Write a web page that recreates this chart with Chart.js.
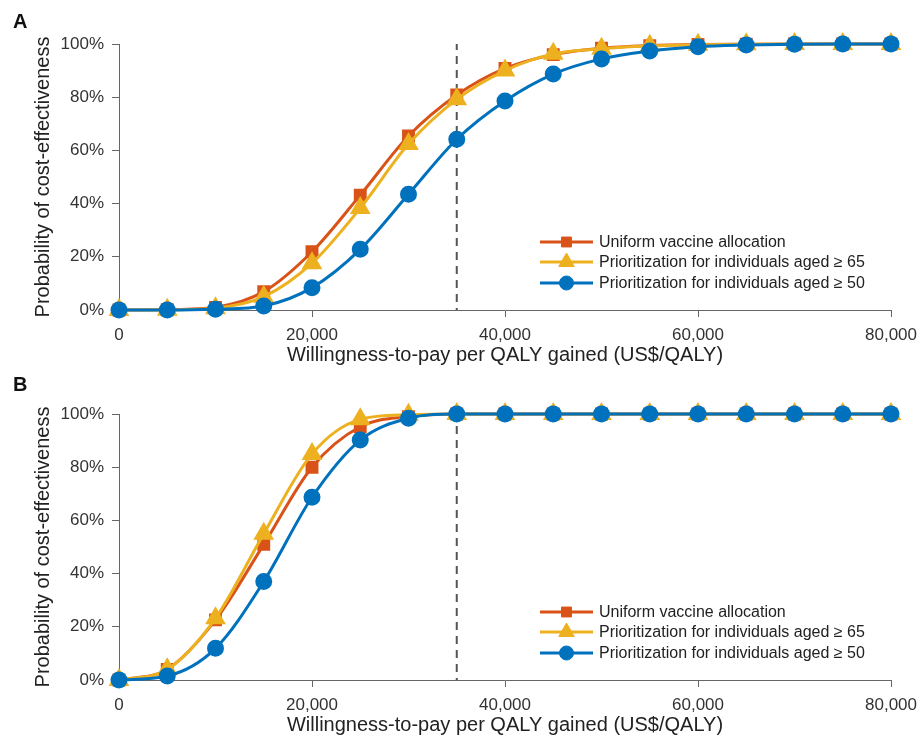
<!DOCTYPE html>
<html>
<head>
<meta charset="utf-8">
<script src="https://cdn.jsdelivr.net/npm/chart.js@4.4.1/dist/chart.umd.min.js"></script>
<style>
  body { margin: 0; background: #fff; font-family: "Liberation Sans", Arial, sans-serif; }
  .panel { position: absolute; left: 0; width: 921px; height: 370px; }
  .tag { position: absolute; left: 13px; font: bold 20px "Liberation Sans", Arial, sans-serif; color: #111; }
</style>
</head>
<body>
<div class="panel" style="top:0"><canvas id="chartA" width="921" height="370"></canvas></div>
<div class="panel" style="top:370px"><canvas id="chartB" width="921" height="370"></canvas></div>
<div class="tag" style="top:10px">A</div>
<div class="tag" style="top:373px">B</div>
<script>
// willingness-to-pay values (US$/QALY) where markers sit
var wtp = [0, 5000, 10000, 15000, 20000, 25000, 30000, 35000, 40000, 45000, 50000, 55000, 60000, 65000, 70000, 75000, 80000];
var threshold = 35000;

var seriesNames = ['Uniform vaccine allocation', 'Prioritization for individuals aged \u2265 65', 'Prioritization for individuals aged \u2265 50'];
var seriesColors = ['#D95319', '#EDB120', '#0072BD'];
var seriesShapes = ['rect', 'triangle', 'circle'];
var seriesSizes = [7, 9, 7];

// panel A, probability of cost-effectiveness (%)
var uniformA = [0, 0.1, 1, 6.9, 21.9, 43.2, 65.4, 80.8, 90.8, 96, 98.4, 99.4, 99.8, 99.9, 100, 100, 100];
var aged65A  = [0, 0.1, 0.7, 5, 17.6, 38.3, 62.4, 79.2, 90, 96.3, 98.2, 99.3, 99.7, 99.9, 100, 100, 100];
var aged50A  = [0, 0, 0.3, 1.5, 8.4, 22.8, 43.5, 64.2, 78.6, 88.7, 94.4, 97.4, 99, 99.6, 99.9, 100, 100];

// panel B
var uniformB = [0, 4, 22.6, 51, 80, 95.2, 99, 100, 100, 100, 100, 100, 100, 100, 100, 100, 100];
var aged65B  = [0, 4, 23.2, 55, 85, 98, 99.7, 100, 100, 100, 100, 100, 100, 100, 100, 100, 100];
var aged50B  = [0, 1.5, 11.9, 37, 68.7, 90.2, 98.4, 100, 100, 100, 100, 100, 100, 100, 100, 100, 100];

var yTicks = [0, 20, 40, 60, 80, 100];

function pairs(vals) {
  return vals.map(function(v, i) { return {x: wtp[i], y: v}; });
}

// legend drawn inside the plot area, line + marker like the original
var insideLegend = {
  id: 'insideLegend',
  afterDatasetsDraw: function(chart) {
    var ctx = chart.ctx, area = chart.chartArea;
    var rowOffsets = [-68, -48, -27];
    var x0 = area.right - 351, x1 = area.right - 298;
    var k = 0;
    chart.data.datasets.forEach(function(ds) {
      if (!ds.inLegend) return;
      var y = area.bottom + rowOffsets[k++];
      ctx.save();
      ctx.strokeStyle = ds.borderColor;
      ctx.lineWidth = 3;
      ctx.beginPath();
      ctx.moveTo(x0, y);
      ctx.lineTo(x1, y);
      ctx.stroke();
      ctx.fillStyle = ds.pointBackgroundColor;
      ctx.strokeStyle = ds.pointBorderColor;
      ctx.lineWidth = 1;
      Chart.helpers.drawPoint(ctx, {pointStyle: ds.pointStyle, radius: ds.pointRadius, rotation: 0, borderWidth: 1}, (x0 + x1) / 2, y);
      ctx.fillStyle = '#222';
      ctx.font = '16px "Liberation Sans", Arial, sans-serif';
      ctx.textBaseline = 'middle';
      ctx.fillText(ds.label, x1 + 6, y + 1);
      ctx.restore();
    });
  }
};

function makeChart(id, seriesVals) {
  var datasets = seriesVals.map(function(vals, i) {
    return {
      label: seriesNames[i],
      data: pairs(vals),
      borderColor: seriesColors[i],
      backgroundColor: seriesColors[i],
      pointBackgroundColor: seriesColors[i],
      pointBorderColor: seriesColors[i],
      pointStyle: seriesShapes[i],
      pointRadius: seriesSizes[i],
      borderWidth: 3,
      cubicInterpolationMode: 'monotone',
      clip: false,
      order: 3 - i,
      inLegend: true
    };
  });
  // dashed line at the threshold
  datasets.push({
    label: 'threshold',
    data: [{x: threshold, y: 0}, {x: threshold, y: 100}],
    borderColor: '#555',
    borderWidth: 2,
    borderDash: [8, 6],
    borderDashOffset: 6,
    pointRadius: 0,
    order: 10
  });

  return new Chart(document.getElementById(id), {
    type: 'line',
    data: { datasets: datasets },
    options: {
      responsive: false,
      animation: false,
      layout: { padding: { top: 44, right: 30, left: 0, bottom: 0 } },
      plugins: { legend: { display: false }, tooltip: { enabled: false } },
      scales: {
        x: {
          type: 'linear',
          min: 0, max: 80000,
          afterFit: function(s) { s.height = 60; s.paddingLeft = 0; s.paddingRight = 0; },
          border: { color: '#666', width: 1 },
          grid: { drawOnChartArea: false, drawTicks: true, tickLength: 7, color: '#666' },
          ticks: {
            stepSize: 20000, padding: 8, color: '#333',
            font: { family: '"Liberation Sans", Arial, sans-serif', size: 17 },
            callback: function(v) { return v.toLocaleString('en-US'); }
          },
          title: {
            display: true, text: 'Willingness-to-pay per QALY gained (US$/QALY)', color: '#222',
            font: { family: '"Liberation Sans", Arial, sans-serif', size: 20 },
            padding: { top: 0, bottom: 3 }
          }
        },
        y: {
          min: 0, max: 100,
          afterFit: function(s) { s.width = 119; s.paddingTop = 0; s.paddingBottom = 0; },
          afterBuildTicks: function(s) { s.ticks = yTicks.map(function(v) { return {value: v}; }); },
          border: { color: '#666', width: 1 },
          grid: { drawOnChartArea: false, drawTicks: true, tickLength: 7, color: '#666' },
          ticks: {
            padding: 8, color: '#333',
            font: { family: '"Liberation Sans", Arial, sans-serif', size: 17 },
            callback: function(v) { return v + '%'; }
          },
          title: {
            display: true, text: 'Probability of cost-effectiveness', color: '#222',
            font: { family: '"Liberation Sans", Arial, sans-serif', size: 20 },
            padding: { top: 31, bottom: 0 }
          }
        }
      }
    },
    plugins: [insideLegend]
  });
}

makeChart('chartA', [uniformA, aged65A, aged50A]);
makeChart('chartB', [uniformB, aged65B, aged50B]);
</script>
</body>
</html>
